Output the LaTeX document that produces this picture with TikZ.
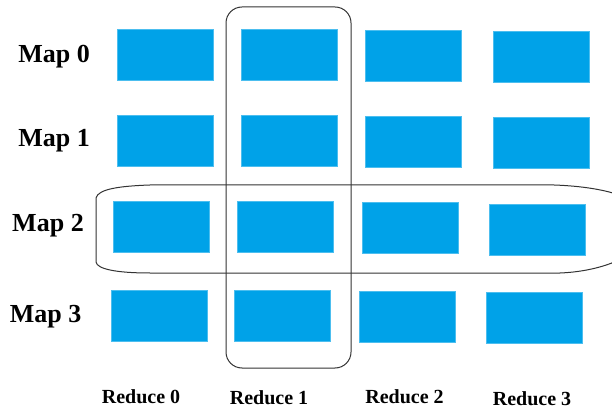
\documentclass[tikz,border=0pt]{standalone}
\usepackage{fontspec}
\setmainfont{Liberation Serif}
\definecolor{cellblue}{HTML}{00A2E8}
\tikzset{
  cell/.style={fill=cellblue,draw=cellblue!70!white,line width=.4pt,minimum width=96pt,minimum height=51pt,inner sep=0pt},
  maplabel/.style={font=\fontsize{26}{29}\selectfont\bfseries,anchor=base,inner sep=0pt},
  redlabel/.style={font=\fontsize{20}{23}\selectfont\bfseries,anchor=base,inner sep=0pt},
  group/.style={draw=black!80,line width=1pt}
}
\begin{document}
\begin{tikzpicture}[x=1pt,y=-1pt]
		\clip (0,0) rectangle (612,411);
		\fill[white] (0,0) rectangle (612,411);
		% cells: map row / reduce column / centre
		\foreach \m/\r/\x/\y in {0/0/165.5/55,0/1/289/55,0/2/413.5/56,0/3/541/57,
		                         1/0/165.5/141,1/1/289/141,1/2/413.5/142,1/3/541/143,
		                         2/0/161.5/227,2/1/285/227,2/2/410/228,2/3/537.5/229.5,
		                         3/0/159.5/316,3/1/282.5/316,3/2/407.5/317,3/3/534.5/318}
		  \node[cell] (m\m r\r) at (\x,\y) {};
		% row labels
		\node[maplabel] (map0) at (54,63) {Map 0};
		\node[maplabel] (map1) at (54,147) {Map 1};
		\node[maplabel] (map2) at (48,232) {Map 2};
		\node[maplabel] (map3) at (45.5,322) {Map 3};
		% column labels
		\node[redlabel] (red0) at (141,403) {Reduce 0};
		\node[redlabel] (red1) at (269,404) {Reduce 1};
		\node[redlabel] (red2) at (404.5,403) {Reduce 2};
		\node[redlabel] (red3) at (532,405) {Reduce 3};
		% reduce 1 column
		\draw[group,rounded corners=16pt] (226,7) rectangle (351,368);
		% map 2 row
		\draw[group] (96,198) .. controls (98,189) and (120,186) .. (150,185) -- (554,185)
		  .. controls (610,187) and (650,200) .. (650,225)
		  .. controls (650,250) and (610,271) .. (560,273) -- (150,273)
		  .. controls (116,273) and (97,269) .. (96,262) -- cycle;
		\end{tikzpicture}
\end{document}
